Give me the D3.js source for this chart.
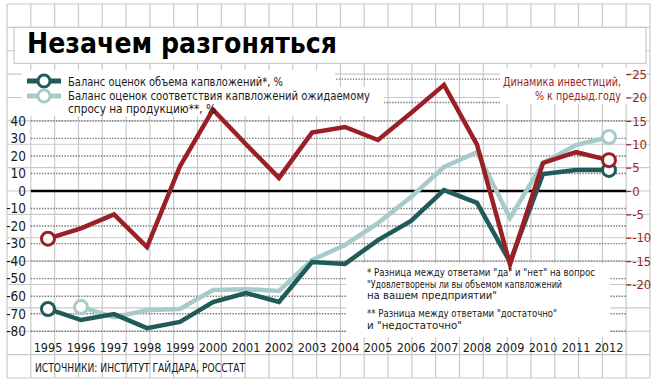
<!DOCTYPE html>
<html>
<head>
<meta charset="utf-8">
<script src="https://cdn.jsdelivr.net/npm/d3@7"></script>
<style>
  body { margin: 0; background: #fff; }
  svg { display: block; }
  text { font-family: "Liberation Sans Narrow", "DejaVu Sans Condensed", "Arial Narrow", sans-serif; }
</style>
</head>
<body>
<div class="chart"></div>
<script>
// chart data
var years = [1995, 1996, 1997, 1998, 1999, 2000, 2001, 2002, 2003, 2004, 2005, 2006, 2007, 2008, 2009, 2010, 2011, 2012];
// Динамика инвестиций, % к предыд. году (right axis)
var investGrowth = [-10.2, -8, -5, -12, 5.3, 17.4, 10, 2.8, 12.5, 13.7, 10.9, 16.7, 22.7, 9.9, -15.7, 6.0, 8.3, 6.6];
// Баланс оценок объема капвложений, % (left axis)
var capexBalance = [-67.3, -73.6, -70.2, -78.2, -74.7, -63.3, -58.2, -63.3, -40.5, -41.6, -28, -17.1, 0.5, -6.8, -40.5, 9.7, 12, 12];
// Баланс оценок соответствия капвложений ожидаемому спросу, % (left axis)
var demandBalance = [null, -66.2, -72, -68, -67.3, -56.5, -56, -57, -39.4, -30.8, -18.3, -3.4, 13.7, 22.2, -15.4, 16, 26.2, 30.8];

var leftTicks = [40, 30, 20, 10, 0, -10, -20, -30, -40, -50, -60, -70, -80];
var rightTicks = [25, 20, 15, 10, 5, 0, -5, -10, -15, -20];

var titleText = "Незачем разгоняться";
var legendLabels = ["Баланс оценок объема капвложений*, %",
  "Баланс оценок соответствия капвложений ожидаемому",
  "спросу на продукцию**, %"];
var rightTitle = ["Динамика инвестиций,", "% к предыд.году"];
var notes = ["* Разница между ответами \"да\" и \"нет\" на вопрос",
  "\"Удовлетворены ли вы объемом капвложений",
  "на вашем предприятии\"",
  "** Разница между ответами \"достаточно\"",
  "и \"недостаточно\""];
var sourceText = "ИСТОЧНИКИ: ИНСТИТУТ ГАЙДАРА, РОССТАТ";

var RED = "#9b1f27";
var DARK = "#1e5b59";
var LIGHT = "#a7cbc9";
var GRID = "#c9c9c9";

var svgWidth = 660;
var svgHeight = 387;

// graph paper frame
var frame = { left: 7, right: 650, top: 4, bottom: 378 };
var cols = 27;
var rows = 16;
var cellW = (frame.right - frame.left) / cols;
var cellH = (frame.bottom - frame.top) / rows;

var plot = { left: frame.left + cellW, right: frame.left + 26 * cellW };

var svg = d3
  .select(".chart")
  .append("svg")
  .attr("width", svgWidth)
  .attr("height", svgHeight);

// scales
var xScale = d3.scaleLinear().domain([1995, 2012]).range([48, 609]);
var yLeft = d3.scaleLinear().domain([-80, 40])
  .range([frame.top + 14 * cellH, frame.top + 5 * cellH]);
var yRight = d3.scaleLinear().domain([-30, 15])
  .range([frame.top + 14 * cellH, frame.top + 5 * cellH]);

// background grid
var gridG = svg.append("g");
gridG.selectAll("line.v")
  .data(d3.range(cols + 1))
  .enter()
  .append("line")
  .attr("x1", (d) => frame.left + d * cellW)
  .attr("x2", (d) => frame.left + d * cellW)
  .attr("y1", frame.top)
  .attr("y2", frame.bottom)
  .attr("stroke", GRID)
  .attr("stroke-width", 1.2);
gridG.selectAll("line.h")
  .data(d3.range(rows + 1))
  .enter()
  .append("line")
  .attr("x1", frame.left)
  .attr("x2", frame.right)
  .attr("y1", (d) => frame.top + d * cellH)
  .attr("y2", (d) => frame.top + d * cellH)
  .attr("stroke", GRID)
  .attr("stroke-width", 1.2);

// title panel
svg.append("rect")
  .attr("x", 14).attr("y", frame.top + cellH)
  .attr("width", 632).attr("height", 36)
  .attr("fill", "#fff").attr("stroke", GRID).attr("stroke-width", 1.2);

svg.append("text")
  .attr("x", 27).attr("y", 53)
  .attr("font-size", 29).attr("font-weight", "bold")
  .attr("textLength", 310).attr("lengthAdjust", "spacingAndGlyphs")
  .attr("fill", "#000")
  .text(titleText);

// dotted gridlines
var dotG = svg.append("g");
dotG.selectAll("line.l")
  .data(leftTicks.filter((d) => d !== 0))
  .enter()
  .append("line")
  .attr("x1", plot.left).attr("x2", plot.right)
  .attr("y1", (d) => yLeft(d)).attr("y2", (d) => yLeft(d))
  .attr("stroke", "#777").attr("stroke-width", 1.4)
  .attr("stroke-dasharray", "1.4,1.4");
dotG.selectAll("line.r")
  .data([25, 20])
  .enter()
  .append("line")
  .attr("x1", plot.left).attr("x2", plot.right)
  .attr("y1", (d) => yRight(d) + 5).attr("y2", (d) => yRight(d) + 5)
  .attr("stroke", "#777").attr("stroke-width", 1.4)
  .attr("stroke-dasharray", "1.4,1.4");

// white boxes behind legend, right title and notes
svg.append("rect").attr("x", 22).attr("y", 70).attr("width", 313).attr("height", 17).attr("fill", "#fff");
svg.append("rect").attr("x", 22).attr("y", 87).attr("width", 362).attr("height", 29).attr("fill", "#fff");
svg.append("rect").attr("x", 500).attr("y", 68).attr("width", 127).attr("height", 36).attr("fill", "#fff");
svg.append("rect").attr("x", 346).attr("y", 263).attr("width", 264).attr("height", 74).attr("fill", "#fff");

// zero line
svg.append("line")
  .attr("x1", plot.left).attr("x2", plot.right)
  .attr("y1", yLeft(0)).attr("y2", yLeft(0))
  .attr("stroke", "#000").attr("stroke-width", 2.5);

// left axis
var leftAxis = d3.axisLeft(yLeft).tickValues(leftTicks).tickSize(0).tickPadding(0)
  .tickFormat((d) => (d < 0 ? "-" + Math.abs(d) : d));
var leftG = svg.append("g")
  .attr("transform", "translate(26,0)")
  .call(leftAxis);
leftG.select(".domain").remove();
leftG.selectAll("text")
  .attr("font-size", 13.5).attr("fill", "#1a1a1a")
  .attr("font-family", "'Liberation Sans Narrow', 'DejaVu Sans Condensed', sans-serif");

// right axis
var rightAxis = d3.axisRight(yRight).tickValues(rightTicks).tickSize(5).tickPadding(1)
  .tickFormat((d) => (d < 0 ? "-" + Math.abs(d) : d));
var rightG = svg.append("g")
  .attr("transform", `translate(${plot.right},0)`)
  .call(rightAxis);
rightG.select(".domain").remove();
rightG.selectAll("line").attr("stroke", RED).attr("stroke-width", 1.2);
rightG.selectAll("text")
  .attr("font-size", 13).attr("fill", RED)
  .attr("font-family", "'Liberation Sans Narrow', 'DejaVu Sans Condensed', sans-serif");

// x axis labels
svg.append("g").selectAll("text")
  .data(years)
  .enter()
  .append("text")
  .attr("x", (d) => xScale(d))
  .attr("y", 352)
  .attr("text-anchor", "middle")
  .attr("font-size", 12.5)
  .attr("fill", "#1a1a1a")
  .text((d) => d);

// series
function drawSeries(values, scale, color) {
  var line = d3.line()
    .defined((d) => d != null)
    .x((d, i) => xScale(years[i]))
    .y((d) => scale(d));
  svg.append("path")
    .datum(values)
    .attr("fill", "none")
    .attr("stroke", color)
    .attr("stroke-width", 4.5)
    .attr("stroke-linejoin", "miter")
    .attr("d", line);
}
function drawEnds(values, scale, color) {
  var idx = values.map((d, i) => (d == null ? -1 : i)).filter((i) => i >= 0);
  var ends = [idx[0], idx[idx.length - 1]];
  svg.append("g").selectAll("circle")
    .data(ends)
    .enter()
    .append("circle")
    .attr("cx", (i) => xScale(years[i]))
    .attr("cy", (i) => scale(values[i]))
    .attr("r", 6.5)
    .attr("fill", "#fff")
    .attr("stroke", color)
    .attr("stroke-width", 3);
}
drawSeries(demandBalance, yLeft, LIGHT);
drawSeries(capexBalance, yLeft, DARK);
drawSeries(investGrowth, yRight, RED);
drawEnds(demandBalance, yLeft, LIGHT);
drawEnds(capexBalance, yLeft, DARK);
drawEnds(investGrowth, yRight, RED);

// legend
var legendRows = [{ color: DARK, y: 81 }, { color: LIGHT, y: 96 }];
legendRows.forEach(function (r) {
  svg.append("line")
    .attr("x1", 27).attr("x2", 61).attr("y1", r.y).attr("y2", r.y)
    .attr("stroke", r.color).attr("stroke-width", 5);
  svg.append("circle")
    .attr("cx", 44).attr("cy", r.y).attr("r", 6)
    .attr("fill", "#fff").attr("stroke", r.color).attr("stroke-width", 3);
});
svg.append("g").selectAll("text")
  .data(legendLabels)
  .enter()
  .append("text")
  .attr("x", 68)
  .attr("y", (d, i) => 86 + i * 13.5)
  .attr("font-size", 12.5)
  .attr("fill", "#1a1a1a")
  .attr("textLength", (d, i) => [215, 302, 148][i])
  .attr("lengthAdjust", "spacingAndGlyphs")
  .text((d) => d);

// right axis title
svg.append("g").selectAll("text")
  .data(rightTitle)
  .enter()
  .append("text")
  .attr("x", 621)
  .attr("y", (d, i) => 86 + i * 13.5)
  .attr("text-anchor", "end")
  .attr("font-size", 11.5)
  .attr("fill", RED)
  .attr("textLength", (d, i) => [118, 86][i])
  .attr("lengthAdjust", "spacingAndGlyphs")
  .text((d) => d);

// notes
svg.append("g").selectAll("text")
  .data(notes)
  .enter()
  .append("text")
  .attr("x", 367)
  .attr("y", (d, i) => [275.5, 287.5, 299, 316.5, 328.5][i])
  .attr("font-size", 10.5)
  .attr("fill", "#1a1a1a")
  .attr("textLength", (d, i) => [228, 195, 130, 190, 95][i])
  .attr("lengthAdjust", "spacingAndGlyphs")
  .text((d) => d);

// source
svg.append("text")
  .attr("x", 35).attr("y", 372)
  .attr("font-size", 12.5)
  .attr("fill", "#1a1a1a")
  .attr("textLength", 210).attr("lengthAdjust", "spacingAndGlyphs")
  .text(sourceText);
</script>
</body>
</html>
